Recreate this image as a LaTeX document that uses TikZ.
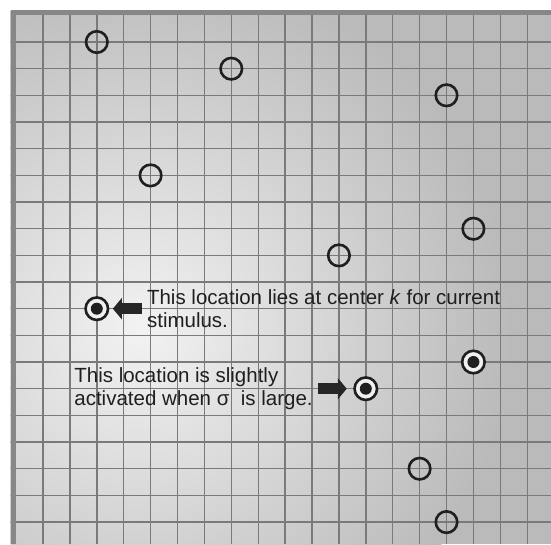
\documentclass[tikz,border=0pt]{standalone}
\usepackage{fontspec}
\setmainfont{Liberation Sans}
\usepackage{xcolor}
\usepackage{tikz}
\usetikzlibrary{positioning,arrows.meta}

\begin{document}
\begin{tikzpicture}[x=1pt, y=-1pt,
  spot/.style={circle, draw=black!88, line width=2.6pt, minimum size=21.5pt,
               inner sep=0pt},
  hit/.style={spot, minimum size=22.5pt, fill=black!6,
              path picture={\fill[black!88] (path picture bounding box.center) circle (6pt);}},
  note/.style={align=left, inner sep=5pt, text=black!88,
               font=\fontsize{20.5}{22.5}\selectfont},
  blockarr/.style={-{Triangle[width=21pt,length=9pt]}, line width=10.5pt, draw=black!85}
]
\useasboundingbox (0,0) rectangle (551,544);
% Sheet: shaded paper with grid
\begin{scope}
  \clip (10.5,10) rectangle (551,544);
  \fill[black!27] (10.5,10) rectangle (551,544);
  \shade[inner color=black!5, outer color=black!27] (140,330) circle (370);
  \foreach \i in {0,...,19}
    \draw[black!52, line width=1.4pt] (43+26.9*\i,10) -- (43+26.9*\i,544);
  \foreach \j in {0,...,19}
    \draw[black!52, line width=1.4pt] (10,42+26.67*\j) -- (551,42+26.67*\j);
  \draw[black!47, line width=5pt] (13.3,544) -- (13.3,12.5) -- (551,12.5);
\end{scope}
% Open locations
\node[spot] (s1) at (96.8,42.0)  {};
\node[spot] (s2) at (231.3,68.7) {};
\node[spot] (s3) at (446.5,95.3) {};
\node[spot] (s4) at (150.6,175.4) {};
\node[spot] (s5) at (473.4,228.7) {};
\node[spot] (s6) at (338.9,255.4) {};
\node[spot] (s7) at (419.6,468.7) {};
\node[spot] (s8) at (446.5,522.1) {};
% Activated locations
\node[hit] (h1) at (96.8,308.7)  {};
\node[hit] (h2) at (473.4,362.0) {};
\node[hit] (h3) at (365.8,388.7) {};
% Labels
\node[note, right=32.5pt of h1] (lbl1)
  {This location lies at center \textit{k} for current\\stimulus.};
\node[note, left=35.4pt of h3] (lbl2)
  {This location is slightly\\activated when σ~ is large.};
% Arrows
\draw[blockarr, shorten >=3.5pt] (lbl1.west |- h1) -- (h1);
\draw[blockarr, shorten >=6.5pt] (lbl2.east |- h3) -- (h3);
\end{tikzpicture}
\end{document}
